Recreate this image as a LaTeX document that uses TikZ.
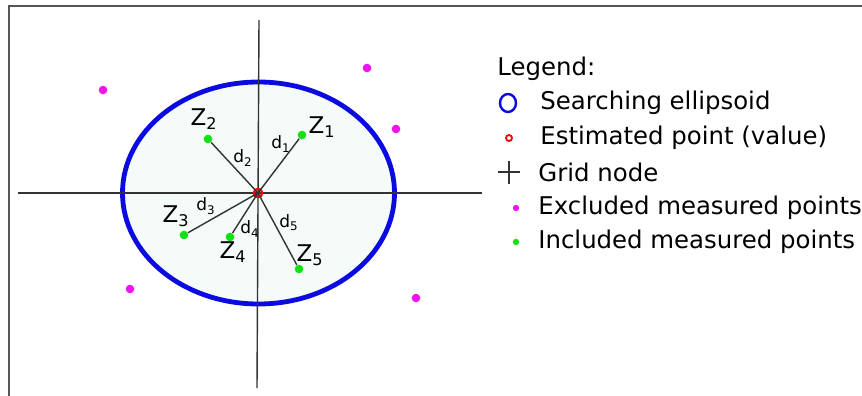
\documentclass[tikz,border=0pt]{standalone}
\usepackage{fontspec}
\setmainfont{DejaVu Sans}
\definecolor{ellblue}{RGB}{10,10,225}
\definecolor{ellfill}{RGB}{244,251,248}
\definecolor{incgreen}{RGB}{20,225,20}
\definecolor{excmag}{RGB}{240,20,240}
\definecolor{framegray}{RGB}{85,85,85}
\tikzset{
  incpt/.style={circle,fill=incgreen,inner sep=0pt,minimum size=4.3pt},
  excpt/.style={circle,fill=excmag,inner sep=0pt,minimum size=4.3pt},
  zlab/.style={inner sep=0pt,font=\fontsize{11.5}{12}\selectfont},
  dlab/.style={inner sep=0pt,font=\fontsize{8.5}{10}\selectfont},
  legtext/.style={anchor=west,inner sep=0pt,font=\fontsize{12.2}{14}\selectfont}
}
\begin{document}
\begin{tikzpicture}[x=0.5pt,y=-0.5pt]
\useasboundingbox (0,0) rectangle (862,396);
\draw[framegray,line width=1.2pt] (9,396) -- (9,6) -- (862,6);

\draw[ellblue,line width=2.4pt,fill=ellfill] (258.5,193) ellipse [x radius=136,y radius=111];
\draw[line width=0.7pt,black!80] (18,193) -- (482,193);
\draw[line width=0.7pt,black!80] (259,20) -- (257,388);

\node[circle,draw=red,line width=1.1pt,inner sep=0pt,minimum size=4.2pt] (est) at (258,193) {};
\node[incpt] (z1) at (302,135) {};
\node[incpt] (z2) at (208,139) {};
\node[incpt] (z3) at (184,235) {};
\node[incpt] (z4) at (230,237) {};
\node[incpt] (z5) at (299,269) {};
\foreach \p in {z1,z2,z3,z4,z5}
  \draw[line width=0.7pt,black!80] (est.center) -- (\p);

\node[excpt] (e1) at (103,90) {};
\node[excpt] (e2) at (367,68) {};
\node[excpt] (e3) at (396,129) {};
\node[excpt] (e4) at (130,289) {};
\node[excpt] (e5) at (416,298) {};

\node[zlab] at (322,127) {Z\textsubscript{1}};
\node[zlab] at (204,119) {Z\textsubscript{2}};
\node[zlab] at (176,216) {Z\textsubscript{3}};
\node[zlab] at (233,252) {Z\textsubscript{4}};
\node[zlab] at (310,255) {Z\textsubscript{5}};
\node[dlab] at (281,144) {d\textsubscript{1}};
\node[dlab] at (243,158) {d\textsubscript{2}};
\node[dlab] at (206,206) {d\textsubscript{3}};
\node[dlab] at (250,229) {d\textsubscript{4}};
\node[dlab] at (289,223) {d\textsubscript{5}};

\node[legtext] (leg) at (497,69) {Legend:};
\node[legtext] (l1) at (540,103) {Searching ellipsoid};
\node[legtext] (l2) at (540,138) {Estimated point (value)};
\node[legtext] (l3) at (538,172) {Grid node};
\node[legtext] (l4) at (538,208) {Excluded measured points};
\node[legtext] (l5) at (538,242) {Included measured points};
\draw[ellblue,line width=1.2pt] (508,103) ellipse [x radius=8,y radius=9];
\node[circle,draw=red,line width=0.9pt,inner sep=0pt,minimum size=3pt] (lest) at (509,138) {};
\draw[line width=0.7pt,black!80] (498,172) -- (520,172) (509,161) -- (509,184);
\node[excpt,minimum size=3.2pt] (lexc) at (516,208) {};
\node[incpt,minimum size=3.2pt] (linc) at (516,242) {};
\end{tikzpicture}
\end{document}
